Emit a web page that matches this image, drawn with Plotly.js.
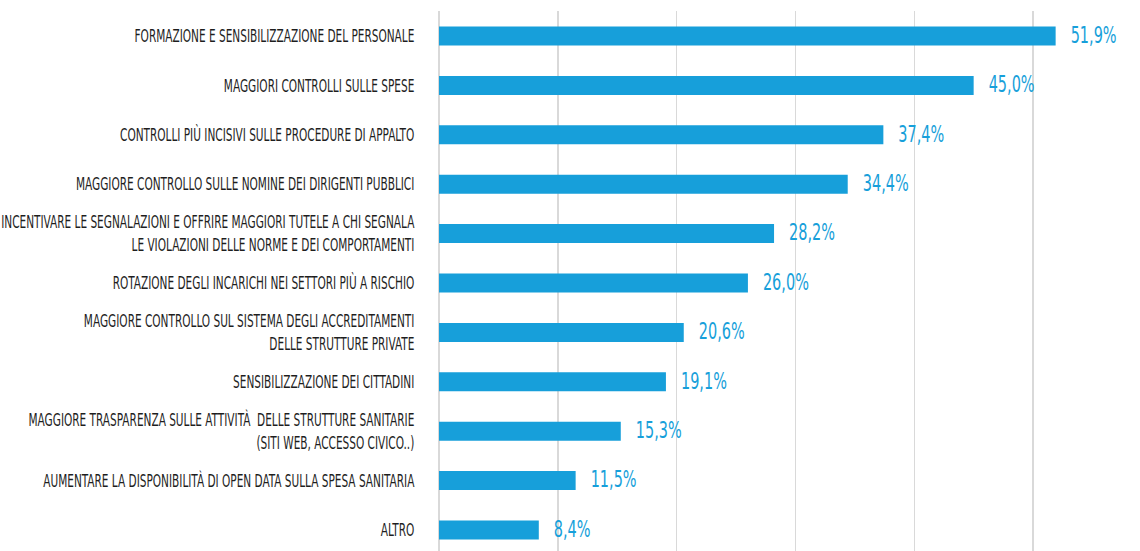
<!DOCTYPE html>
<html>
<head>
<meta charset="utf-8">
<script src="https://cdn.plot.ly/plotly-3.0.1.min.js"></script>
<style>
html,body{margin:0;padding:0;background:#fff;}
#chart{width:1140px;height:551px;}
#chart .yaxislayer-above{transform-box:view-box;transform-origin:415px 0px;transform:scaleX(0.67);}
#chart .textpoint text{transform-box:fill-box;transform-origin:left center;transform:translateX(15px) translateY(1px) scaleX(0.7);}
</style>
</head>
<body>
<div id="chart"></div>
<script>
const categories = [
  "FORMAZIONE E SENSIBILIZZAZIONE DEL PERSONALE",
  "MAGGIORI CONTROLLI SULLE SPESE",
  "CONTROLLI PIÙ INCISIVI SULLE PROCEDURE DI APPALTO",
  "MAGGIORE CONTROLLO SULLE NOMINE DEI DIRIGENTI PUBBLICI",
  "INCENTIVARE LE SEGNALAZIONI E OFFRIRE MAGGIORI TUTELE A CHI SEGNALA<br>LE VIOLAZIONI DELLE NORME E DEI COMPORTAMENTI",
  "ROTAZIONE DEGLI INCARICHI NEI SETTORI PIÙ A RISCHIO",
  "MAGGIORE CONTROLLO SUL SISTEMA DEGLI ACCREDITAMENTI<br>DELLE STRUTTURE PRIVATE",
  "SENSIBILIZZAZIONE DEI CITTADINI",
  "MAGGIORE TRASPARENZA SULLE ATTIVITÀ  DELLE STRUTTURE SANITARIE<br>(SITI WEB, ACCESSO CIVICO..)",
  "AUMENTARE LA DISPONIBILITÀ DI OPEN DATA SULLA SPESA SANITARIA",
  "ALTRO"
];
const values = [51.9, 45.0, 37.4, 34.4, 28.2, 26.0, 20.6, 19.1, 15.3, 11.5, 8.4];
const valueLabels = values.map(v => v.toFixed(1).replace('.', ',') + '%');

const blue = '#179fda';
const fontFam = '"DejaVu Sans Condensed", "DejaVu Sans", sans-serif';

Plotly.newPlot('chart', [{
  type: 'bar',
  orientation: 'h',
  y: categories,
  x: values,
  marker: {color: blue},
  hoverinfo: 'none'
}, {
  type: 'scatter',
  mode: 'text',
  y: categories,
  x: values,
  text: valueLabels,
  textposition: 'middle right',
  cliponaxis: false,
  textfont: {family: fontFam, size: 23, color: blue},
  hoverinfo: 'none'
}], {
  width: 1140,
  height: 551,
  margin: {l: 439, r: 0, t: 11, b: 0},
  paper_bgcolor: '#fff',
  plot_bgcolor: '#fff',
  bargap: 0.615,
  showlegend: false,
  xaxis: {
    range: [0, 59],
    dtick: 10,
    showticklabels: false,
    showgrid: true,
    gridcolor: '#d9d9d9',
    gridwidth: 1.5,
    zeroline: true,
    zerolinecolor: '#d9d9d9',
    zerolinewidth: 1.5,
    showline: false,
    fixedrange: true
  },
  yaxis: {
    range: [10.425, -0.506],
    tickfont: {family: fontFam, size: 17.5, color: '#1e1e1e'},
    ticklabelstandoff: 24,
    showline: false,
    showgrid: false,
    zeroline: false,
    fixedrange: true
  }
}, {displayModeBar: false, staticPlot: true});
</script>
</body>
</html>
